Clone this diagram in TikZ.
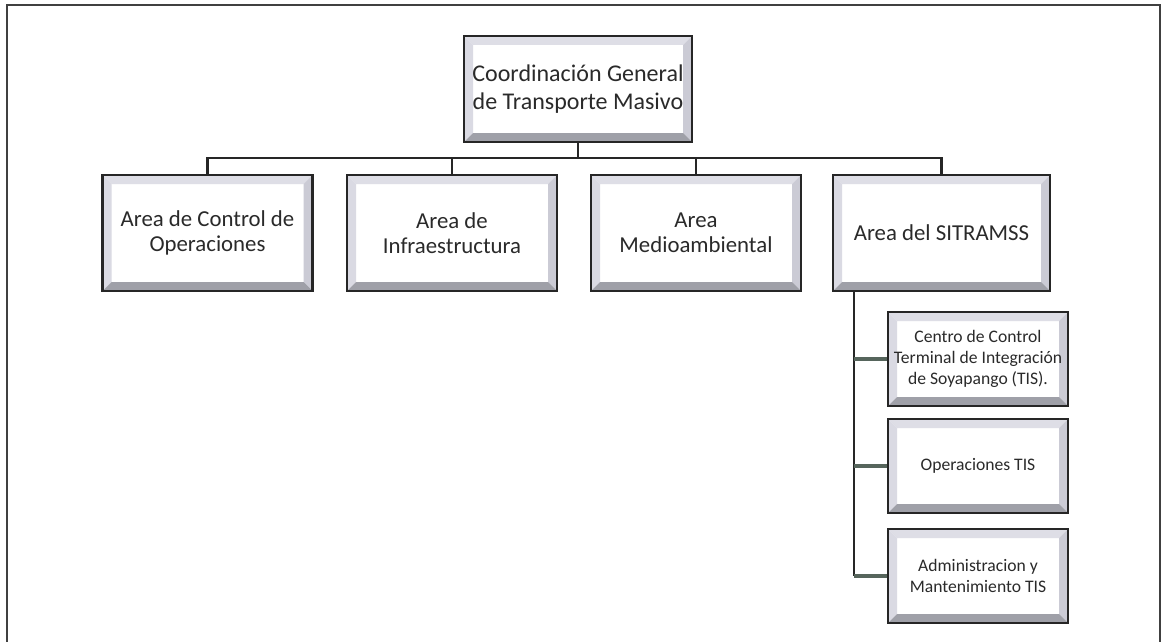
\documentclass[tikz,border=0pt]{standalone}
\usepackage{fontspec}
\setmainfont{Carlito}
\usetikzlibrary{calc}
\definecolor{bevlight}{HTML}{DEDEE6}
\definecolor{bevside}{HTML}{CBCBD5}
\definecolor{bevdark}{HTML}{9FA0A8}
\definecolor{boxtext}{HTML}{2A2A2A}
\definecolor{branchgray}{HTML}{56655C}
\def\bevw{9pt}
\tikzset{
  bevelbox/.style={draw=black!85, line width=2.2pt, fill=white, text=boxtext,
    align=center, inner sep=0pt,
    path picture={
      \path (path picture bounding box.south west) coordinate (sw)
            (path picture bounding box.north west) coordinate (nw)
            (path picture bounding box.north east) coordinate (ne)
            (path picture bounding box.south east) coordinate (se);
      % the four bevel strips
      \fill[bevlight] (nw) -- (ne) -- ([shift={(-\bevw,-\bevw)}]ne)
        -- ([shift={(\bevw,-\bevw)}]nw) -- cycle;
      \fill[bevlight!80!bevside] (nw) -- (sw) -- ([shift={(\bevw,\bevw)}]sw)
        -- ([shift={(\bevw,-\bevw)}]nw) -- cycle;
      \fill[bevside] (ne) -- (se) -- ([shift={(-\bevw,\bevw)}]se)
        -- ([shift={(-\bevw,-\bevw)}]ne) -- cycle;
      \fill[bevdark] (sw) -- (se) -- ([shift={(-\bevw,\bevw)}]se)
        -- ([shift={(\bevw,\bevw)}]sw) -- cycle;
    }},
  topbox/.style={bevelbox, minimum width=228pt, minimum height=106pt,
    font=\fontsize{24}{28}\selectfont},
  areabox/.style={bevelbox, minimum width=210pt, minimum height=116pt,
    font=\fontsize{22.8}{25.5}\selectfont},
  subbox/.style={bevelbox, minimum width=180pt, minimum height=94pt,
    font=\fontsize{17.6}{21}\selectfont},
  link/.style={draw=black!85, line width=2.6pt},
  branch/.style={draw=branchgray, line width=3.4pt}
}
\begin{document}
\begin{tikzpicture}[x=1pt, y=-1pt]
  \useasboundingbox (0,0) rectangle (1162,642);
  % page frame
  \draw[black!75, line width=1.6pt] (7,642) -- (7,5) -- (1160,5) -- (1160,642);
  % top of the chart
  \node[topbox] (cgtm) at (578,89) {Coordinación General\\de Transporte Masivo};
  % areas
  \node[areabox] (ctrl) at (207.5,233) {Area de Control de\\Operaciones};
  \node[areabox] (infra) at (452,233) {Area de\\Infraestructura};
  \node[areabox] (medio) at (696,233) {Area\\Medioambiental};
  \node[areabox, minimum width=217pt] (sitra) at (941.5,233) {Area del SITRAMSS};
  % units of the SITRAMSS
  \node[subbox] (cctis) at (978,359) {Centro de Control\\Terminal de Integración\\de Soyapango (TIS).};
  \node[subbox] (optis) at (978,466) {Operaciones TIS};
  \node[subbox] (admtis) at (978,576) {Administracion y\\Mantenimiento TIS};
  % connectors
  \coordinate (bus) at ($(cgtm.south)+(0,15)$);
  \draw[link] (cgtm.south) -- (bus);
  \foreach \n in {ctrl, infra, medio, sitra}
    \draw[link] (bus) -| (\n.north);
  \coordinate (trunk) at ([xshift=22pt]sitra.south west);
  \draw[link] (trunk) -- (trunk |- admtis.west);
  \foreach \n in {cctis, optis, admtis}
    \draw[branch] (trunk |- \n.west) -- (\n.west);
\end{tikzpicture}
\end{document}
